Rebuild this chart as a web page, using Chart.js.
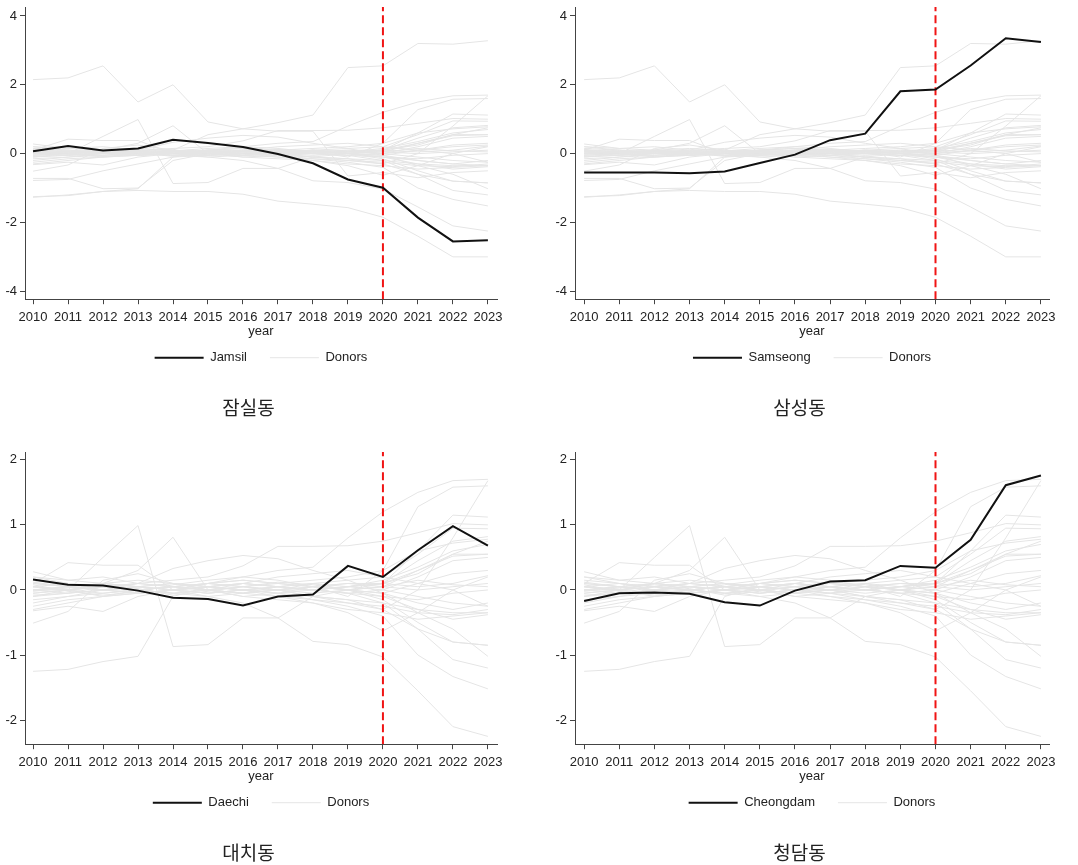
<!DOCTYPE html>
<html lang="ko">
<head>
<meta charset="UTF-8">
<title>Synthetic control: donors vs treated</title>
<script src="https://cdn.jsdelivr.net/npm/chart.js@4"></script>
<style>
    body, html {
        margin: 0;
        padding: 0;
        width: 1078px;
        height: 865px;
        overflow: hidden;
        background: #fff;
    }
    .cell {
        position: absolute;
        width: 539px;
        height: 445px;
    }
</style>
</head>
<body>

<div class="cell" style="left:0;top:0"><canvas id="c1" width="539" height="445"></canvas></div>
<div class="cell" style="left:539px;top:0"><canvas id="c2" width="539" height="445"></canvas></div>
<div class="cell" style="left:0;top:445px"><canvas id="c3" width="539" height="445"></canvas></div>
<div class="cell" style="left:539px;top:445px"><canvas id="c4" width="539" height="445"></canvas></div>

<script>
    const years = [2010, 2011, 2012, 2013, 2014, 2015, 2016, 2017, 2018, 2019, 2020, 2021, 2022, 2023];
    const treatYear = 2020;

    // treated units
    const jamsil    = [0.07, 0.22, 0.09, 0.15, 0.40, 0.31, 0.19, -0.01, -0.28, -0.75, -0.99, -1.86, -2.55, -2.52];
    const samseong  = [-0.55, -0.55, -0.55, -0.57, -0.52, -0.27, -0.03, 0.39, 0.58, 1.81, 1.86, 2.56, 3.35, 3.24];
    const daechi    = [0.16, 0.08, 0.07, -0.01, -0.12, -0.14, -0.24, -0.10, -0.07, 0.37, 0.20, 0.61, 0.98, 0.68];
    const cheongdam = [-0.17, -0.05, -0.04, -0.06, -0.19, -0.24, -0.01, 0.13, 0.15, 0.37, 0.34, 0.77, 1.61, 1.76];

    // donor pool shared by all four panels
    const donorsCommon = [
        [-1.25, -1.22, -1.10, -1.02, -0.10, 0.05, 0.10, 0.05, 0.00, 0.05, 0.10, 0.30, 0.55, 0.55],
        [-0.05, 0.00, 0.50, 0.99, -0.87, -0.84, -0.43, -0.43, -0.10, 0.00, 0.10, 0.25, 0.55, 0.75],
        [0.05, 0.00, 0.10, 0.30, 0.81, 0.00, -0.10, -0.15, -0.20, -0.30, -0.35, -0.45, -0.40, -0.35],
        [0.10, 0.42, 0.38, 0.38, 0.00, -0.05, 0.00, 0.05, 0.00, -0.05, 0.00, -0.10, -0.20, -0.25],
        [-0.51, -0.33, 0.15, 0.25, 0.10, 0.05, 0.00, -0.05, -0.10, -0.15, -0.20, -0.30, -0.35, -0.35],
        [-0.32, -0.25, -0.33, -0.10, 0.00, 0.10, 0.05, 0.00, -0.10, -0.15, -0.30, -0.60, -0.80, -0.85],
        [0.28, 0.15, 0.20, 0.10, 0.33, 0.45, 0.53, 0.48, 0.30, 0.15, -0.05, -0.35, -0.60, -1.02],
        [0.00, 0.05, 0.00, 0.10, 0.15, 0.20, 0.37, 0.67, 0.67, 0.68, 0.75, 0.88, 1.02, 1.00],
        [0.05, 0.00, 0.05, 0.00, 0.05, 0.10, 0.20, 0.30, 0.35, 0.80, 1.20, 1.50, 1.68, 1.70],
        [-0.10, 0.00, 0.05, 0.00, -0.05, 0.00, 0.05, 0.10, 0.15, 0.20, 0.30, 1.28, 1.58, 1.60],
        [0.00, -0.05, 0.00, 0.05, 0.00, -0.05, 0.00, 0.00, -0.10, -0.20, -0.30, 0.00, 0.80, 1.68],
        [0.10, 0.05, 0.00, -0.05, 0.00, 0.05, 0.00, -0.10, -0.20, -0.35, -0.63, -0.35, 0.00, 0.20],
        [0.00, 0.05, 0.00, 0.05, 0.00, -0.10, -0.20, -0.43, -0.79, -0.84, -1.03, -1.55, -2.10, -2.25],
        [0.05, 0.00, -0.05, 0.00, 0.05, 0.00, -0.05, -0.10, -0.15, -0.25, -0.40, -1.00, -1.33, -1.52],
        [0.00, 0.05, 0.10, 0.05, 0.00, 0.05, 0.10, 0.05, 0.00, -0.05, -0.20, -0.60, -1.07, -1.20],
        [-0.20, -0.10, 0.00, 0.05, 0.10, 0.05, 0.00, 0.05, 0.10, 0.00, -0.15, -0.50, -0.80, -0.85],
        [0.20, 0.10, 0.05, 0.00, -0.05, 0.00, 0.10, 0.05, 0.00, 0.05, 0.10, 0.60, 1.15, 1.12],
        [-0.05, 0.00, 0.10, 0.15, 0.10, 0.00, -0.05, 0.00, 0.10, 0.15, 0.20, 0.55, 0.95, 0.94],
        [0.15, 0.10, 0.05, 0.00, 0.05, 0.10, 0.05, 0.00, 0.05, 0.10, 0.10, 0.45, 0.75, 0.82],
        [-0.15, -0.10, -0.05, 0.00, 0.05, 0.00, -0.05, 0.05, 0.00, 0.05, 0.15, 0.35, 0.60, 0.70],
        [0.05, 0.10, 0.00, -0.05, 0.00, 0.10, 0.15, 0.10, 0.05, 0.10, 0.05, 0.30, 0.52, 0.55],
        [-0.10, -0.05, 0.00, 0.05, 0.00, -0.05, 0.00, 0.05, 0.10, 0.05, 0.00, 0.20, 0.45, 0.50],
        [0.10, 0.05, 0.10, 0.05, 0.00, 0.00, -0.05, 0.00, 0.05, 0.00, -0.05, 0.10, 0.25, 0.30],
        [-0.25, -0.15, -0.10, -0.05, 0.00, 0.05, 0.00, -0.05, 0.00, 0.05, 0.10, 0.05, 0.10, 0.22],
        [0.00, 0.00, 0.05, 0.10, 0.05, 0.00, 0.05, 0.00, -0.05, 0.00, 0.05, 0.00, 0.05, 0.10],
        [0.12, 0.05, 0.00, 0.00, -0.05, -0.10, -0.05, 0.00, 0.00, -0.05, -0.10, -0.15, -0.05, 0.00],
        [-0.08, -0.05, 0.05, 0.10, 0.05, 0.00, -0.10, -0.05, 0.05, 0.00, -0.05, -0.20, -0.30, -0.20],
        [0.20, 0.15, 0.10, 0.05, 0.10, 0.05, 0.00, -0.05, -0.15, -0.20, -0.25, -0.35, -0.38, -0.30],
        [-0.30, -0.20, -0.10, 0.00, 0.05, 0.10, 0.15, 0.10, 0.05, 0.00, -0.10, -0.30, -0.45, -0.38],
        [0.05, 0.00, -0.10, -0.05, 0.00, 0.05, 0.10, 0.20, 0.25, 0.30, 0.20, 0.10, 0.00, -0.25],
        [-0.02, 0.03, 0.08, 0.02, -0.08, -0.02, 0.05, 0.12, 0.08, 0.00, 0.05, 0.15, 0.08, 0.05],
        [0.08, -0.02, -0.08, -0.03, 0.08, 0.15, 0.20, 0.15, 0.05, -0.10, 0.30, 0.60, 0.72, 0.78]
    ];

    // extra donors only seen in the Jamsil / Samseong pools
    const donorsExtra = [
        [2.15, 2.20, 2.55, 1.50, 2.00, 0.92, 0.72, 0.65, 0.65, -0.65, -0.55, -0.70, -0.55, -0.50],
        [0.10, 0.00, 0.05, 0.00, 0.10, 0.55, 0.72, 0.90, 1.12, 2.50, 2.55, 3.20, 3.18, 3.28],
        [-1.27, -1.20, -1.10, -1.07, -1.10, -1.10, -1.18, -1.38, -1.47, -1.57, -1.85, -2.40, -3.00, -3.00],
        [-0.72, -0.72, -1.02, -1.00, -0.20, 0.00, 0.05, 0.10, 0.05, 0.00, -0.10, -0.20, -0.30, -0.35],
        [-0.78, -0.75, -0.50, -0.30, -0.10, -0.05, 0.00, 0.05, 0.10, 0.05, 0.00, 0.10, 0.20, 0.25]
    ];

    const ticksWide = [-4, -2, 0, 2, 4];
    const ticksNarrow = [-2, -1, 0, 1, 2];

    const panels = [
        { id: 'c1', name: 'Jamsil',    title: '잠실동', values: jamsil,    donors: donorsCommon.concat(donorsExtra), yTicks: ticksWide },
        { id: 'c2', name: 'Samseong',  title: '삼성동', values: samseong,  donors: donorsCommon.concat(donorsExtra), yTicks: ticksWide },
        { id: 'c3', name: 'Daechi',    title: '대치동', values: daechi,    donors: donorsCommon, yTicks: ticksNarrow },
        { id: 'c4', name: 'Cheongdam', title: '청담동', values: cheongdam, donors: donorsCommon, yTicks: ticksNarrow }
    ];

    // axis extents and paddings per panel (left / right column)
    const layouts = {
        c1: { padL: 0,  padR: 42, xMin: 2009.77, xMax: 2023.26, yMin: -4.23, yMax: 4.26 },
        c2: { padL: 11, padR: 29, xMin: 2009.74, xMax: 2023.23, yMin: -4.23, yMax: 4.26 },
        c3: { padL: 0,  padR: 42, xMin: 2009.77, xMax: 2023.26, yMin: -2.37, yMax: 2.12 },
        c4: { padL: 11, padR: 29, xMin: 2009.74, xMax: 2023.23, yMin: -2.37, yMax: 2.12 }
    };

    const baseFont = "'Liberation Sans', Arial, sans-serif";
    const axisColor = '#444';
    const textColor = '#222';

    function toPoints(arr) {
        return arr.map((v, i) => ({ x: years[i], y: v }));
    }

    function buildChart(p) {
        const lay = layouts[p.id];
        const datasets = [];

        datasets.push({
            label: p.name,
            data: toPoints(p.values),
            borderColor: '#111',
            backgroundColor: '#111',
            borderWidth: 2,
            pointRadius: 0,
            tension: 0
        });

        // treatment year marker
        datasets.push({
            label: '',
            data: [{ x: treatYear, y: lay.yMin }, { x: treatYear, y: lay.yMax }],
            borderColor: '#f01414',
            borderWidth: 2,
            borderDash: [8, 4],
            pointRadius: 0
        });

        p.donors.forEach((d, i) => {
            datasets.push({
                label: i === 0 ? 'Donors' : '',
                data: toPoints(d),
                borderColor: '#e5e5e5',
                backgroundColor: '#e5e5e5',
                borderWidth: 1,
                pointRadius: 0,
                tension: 0
            });
        });

        new Chart(document.getElementById(p.id), {
            type: 'line',
            data: { datasets: datasets },
            options: {
                responsive: false,
                animation: false,
                devicePixelRatio: 1,
                layout: { padding: { left: lay.padL, right: lay.padR, top: 7, bottom: 0 } },
                scales: {
                    x: {
                        type: 'linear',
                        min: lay.xMin,
                        max: lay.xMax,
                        afterBuildTicks: s => { s.ticks = years.map(v => ({ value: v })); },
                        afterFit: s => { s.height = 42; },
                        ticks: {
                            autoSkip: false,
                            maxRotation: 0,
                            padding: 5,
                            color: textColor,
                            font: { family: baseFont, size: 13 },
                            callback: v => String(v)
                        },
                        grid: { drawOnChartArea: false, drawTicks: true, tickLength: 5, color: axisColor },
                        border: { display: true, color: axisColor, width: 1 },
                        title: {
                            display: true,
                            text: 'year',
                            color: textColor,
                            padding: { top: 0, bottom: 2 },
                            font: { family: baseFont, size: 13 }
                        }
                    },
                    y: {
                        type: 'linear',
                        min: lay.yMin,
                        max: lay.yMax,
                        afterBuildTicks: s => { s.ticks = p.yTicks.map(v => ({ value: v })); },
                        afterFit: s => { s.width = 25; s.paddingTop = 0; s.paddingBottom = 0; },
                        ticks: {
                            padding: 3,
                            color: textColor,
                            font: { family: baseFont, size: 13 }
                        },
                        grid: { drawOnChartArea: false, drawTicks: true, tickLength: 5, color: axisColor },
                        border: { display: true, color: axisColor, width: 1 }
                    }
                },
                plugins: {
                    tooltip: { enabled: false },
                    legend: {
                        position: 'bottom',
                        fullSize: false,
                        labels: {
                            usePointStyle: true,
                            pointStyle: 'line',
                            pointStyleWidth: 49,
                            boxHeight: 13,
                            padding: 10,
                            color: textColor,
                            font: { family: baseFont, size: 13 },
                            filter: item => item.text !== '',
                            generateLabels: chart => {
                                const items = Chart.defaults.plugins.legend.labels.generateLabels(chart);
                                if (items.length) items[0].text = items[0].text + '\u2003';
                                return items;
                            }
                        }
                    },
                    title: {
                        display: true,
                        position: 'bottom',
                        text: p.title,
                        color: textColor,
                        padding: { top: 22, bottom: 26 },
                        font: { family: "'Noto Sans CJK KR', sans-serif", size: 19, weight: 'normal' }
                    }
                }
            }
        });
    }

    panels.forEach(buildChart);
</script>

</body>
</html>
